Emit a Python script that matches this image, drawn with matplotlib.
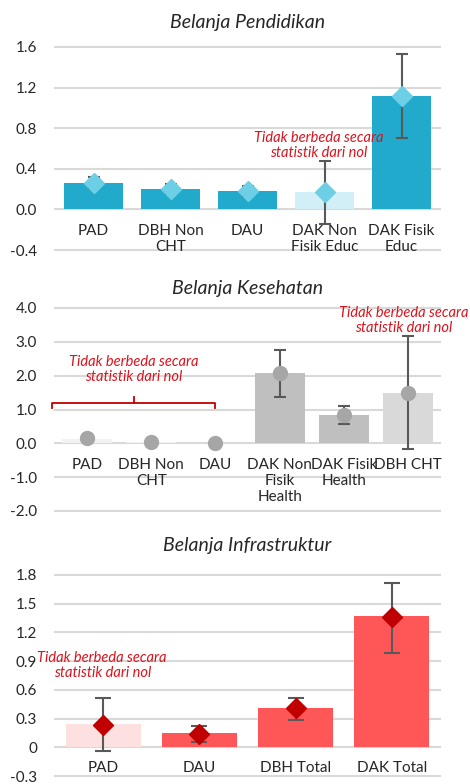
import matplotlib
matplotlib.use("Agg")
import matplotlib.pyplot as plt
import numpy as np

plt.rcParams['font.family'] = ['Lato', 'DejaVu Sans']

# ---------------- data ----------------
edu_cats = ["PAD", "DBH Non\nCHT", "DAU", "DAK Non\nFisik Educ", "DAK Fisik\nEduc"]
edu_bar = [0.26, 0.20, 0.18, 0.17, 1.12]
edu_est = [0.26, 0.20, 0.18, 0.17, 1.12]
edu_lo = [0.21, 0.15, 0.13, -0.14, 0.70]
edu_hi = [0.32, 0.25, 0.23, 0.48, 1.53]
edu_yticks = [-0.4, 0.0, 0.4, 0.8, 1.2, 1.6]
edu_ylabels = ["-0.4", "0.0", "0.4", "0.8", "1.2", "1.6"]

hea_cats = ["PAD", "DBH Non\nCHT", "DAU", "DAK Non\nFisik\nHealth", "DAK Fisik\nHealth", "DBH CHT"]
hea_bar = [0.13, 0.03, 0.0, 2.07, 0.85, 1.50]
hea_est = [0.15, 0.04, 0.02, 2.07, 0.83, 1.49]
hea_lo = [0.15, 0.04, 0.02, 1.38, 0.57, -0.18]
hea_hi = [0.15, 0.04, 0.02, 2.77, 1.10, 3.17]
hea_yticks = [-2.0, -1.0, 0.0, 1.0, 2.0, 3.0, 4.0]
hea_ylabels = ["-2.0", "-1.0", "0.0", "1.0", "2.0", "3.0", "4.0"]
hea_err_show = [False, False, False, True, True, True]

inf_cats = ["PAD", "DAU", "DBH Total", "DAK Total"]
inf_bar = [0.24, 0.145, 0.415, 1.37]
inf_est = [0.23, 0.14, 0.41, 1.36]
inf_lo = [-0.04, 0.06, 0.29, 0.99]
inf_hi = [0.51, 0.22, 0.52, 1.72]
inf_yticks = [-0.3, 0.0, 0.3, 0.6, 0.9, 1.2, 1.5, 1.8]
inf_ylabels = ["-0.3", "0", "0.3", "0.6", "0.9", "1.2", "1.5", "1.8"]

note = "Tidak berbeda secara\nstatistik dari nol"

# ---------------- styles ----------------
W, H = 470, 784
fig = plt.figure(figsize=(W / 100, H / 100), dpi=100)

def ax_at(top_px, bot_px):
    left, right = 55, 440
    return fig.add_axes([left / W, 1 - bot_px / H, (right - left) / W, (bot_px - top_px) / H])

ERR_C = "#595959"
GRID_C = "#d9d9d9"
RED = "#d9141e"
TXT = "#262626"
NOTE_FS = 10.5
LAB_FS = 11

def setup(ax, cats, yticks, ylabels, label_off):
    n = len(cats)
    ax.set_xlim(-0.5, n - 0.5)
    ax.set_ylim(yticks[0], yticks[-1])
    ax.set_yticks(yticks)
    ax.set_yticklabels(ylabels)
    for s in ax.spines.values():
        s.set_visible(False)
    ax.tick_params(axis='y', length=0, pad=13, labelsize=11, labelcolor=TXT)
    ax.set_xticks([])
    for y in yticks:
        ax.axhline(y, color=GRID_C, lw=1.5, zorder=0, clip_on=False)
    for i, c in enumerate(cats):
        ax.annotate(c, xy=(i, 0), xytext=(0, -label_off), textcoords='offset points',
                    ha='center', va='top', fontsize=LAB_FS, color=TXT, linespacing=1.2,
                    annotation_clip=False)

def errs(est, lo, hi):
    est = np.array(est); lo = np.array(lo); hi = np.array(hi)
    return np.vstack([est - lo, hi - est])

# ---- Panel 1: Pendidikan ----
ax1 = ax_at(47, 250)
setup(ax1, edu_cats, edu_yticks, edu_ylabels, 10.5)
x1 = np.arange(len(edu_cats))
c1 = ["#21aacb", "#21aacb", "#21aacb", "#d2eef7", "#21aacb"]
ax1.bar(x1, edu_bar, width=0.77, color=c1, zorder=2)
ax1.errorbar(x1, edu_est, yerr=errs(edu_est, edu_lo, edu_hi), fmt='none',
             ecolor=ERR_C, elinewidth=1.5, capsize=4.5, capthick=1.5, zorder=3)
ax1.plot(x1, edu_est, 'D', color="#6dcfe6", markersize=10, zorder=4, linestyle='none')
ax1.set_title("Belanja Pendidikan", fontsize=14, style='italic', color=TXT, pad=14)
ax1.text(2.92, 0.63, note, ha='center', va='center', fontsize=NOTE_FS, style='italic',
         color=RED, linespacing=1.1, zorder=5)

# ---- Panel 2: Kesehatan ----
ax2 = ax_at(308, 511)
setup(ax2, hea_cats, hea_yticks, hea_ylabels, 10.5)
x2 = np.arange(len(hea_cats))
c2 = ["#f2f2f2", "#f2f2f2", "#f2f2f2", "#bfbfbf", "#bfbfbf", "#d9d9d9"]
ax2.bar(x2, hea_bar, width=0.78, color=c2, zorder=2)
sel = np.array(hea_err_show)
ax2.errorbar(x2[sel], np.array(hea_est)[sel],
             yerr=errs(np.array(hea_est)[sel], np.array(hea_lo)[sel], np.array(hea_hi)[sel]),
             fmt='none', ecolor=ERR_C, elinewidth=1.5, capsize=4.5, capthick=1.5, zorder=3)
ax2.plot(x2, hea_est, 'o', color="#a6a6a6", markersize=10, zorder=4, linestyle='none')
ax2.set_title("Belanja Kesehatan", fontsize=14, style='italic', color=TXT, pad=10)
ax2.text(0.72, 2.17, note, ha='center', va='center', fontsize=NOTE_FS, style='italic',
         color=RED, linespacing=1.1, zorder=5)
ax2.text(4.94, 3.64, note, ha='center', va='center', fontsize=NOTE_FS, style='italic',
         color=RED, linespacing=1.1, zorder=5, clip_on=False)
# bracket
bx0, bx1, bxm = -0.55, 2.0, 0.73
ax2.plot([bx0, bx0, bx1, bx1], [1.05, 1.19, 1.19, 1.05], color="#c00000", lw=1.3,
         clip_on=False, zorder=5)
ax2.plot([bxm, bxm], [1.19, 1.37], color="#c00000", lw=1.3, clip_on=False, zorder=5)

# ---- Panel 3: Infrastruktur ----
ax3 = ax_at(575, 776)
setup(ax3, inf_cats, inf_yticks, inf_ylabels, 10)
x3 = np.arange(len(inf_cats))
c3 = ["#fde0e0", "#ff5757", "#ff5757", "#ff5757"]
ax3.bar(x3, inf_bar, width=0.78, color=c3, zorder=2)
ax3.errorbar(x3, inf_est, yerr=errs(inf_est, inf_lo, inf_hi), fmt='none',
             ecolor=ERR_C, elinewidth=1.5, capsize=6, capthick=1.5, zorder=3)
ax3.plot(x3, inf_est, 'D', color="#c00000", markersize=10, zorder=4, linestyle='none')
ax3.set_title("Belanja Infrastruktur", fontsize=14, style='italic', color=TXT, pad=17)
ax3.text(-0.01, 0.85, note, ha='center', va='center', fontsize=NOTE_FS, style='italic',
         color=RED, linespacing=1.1, zorder=5)

fig.savefig("out.png", dpi=100)
